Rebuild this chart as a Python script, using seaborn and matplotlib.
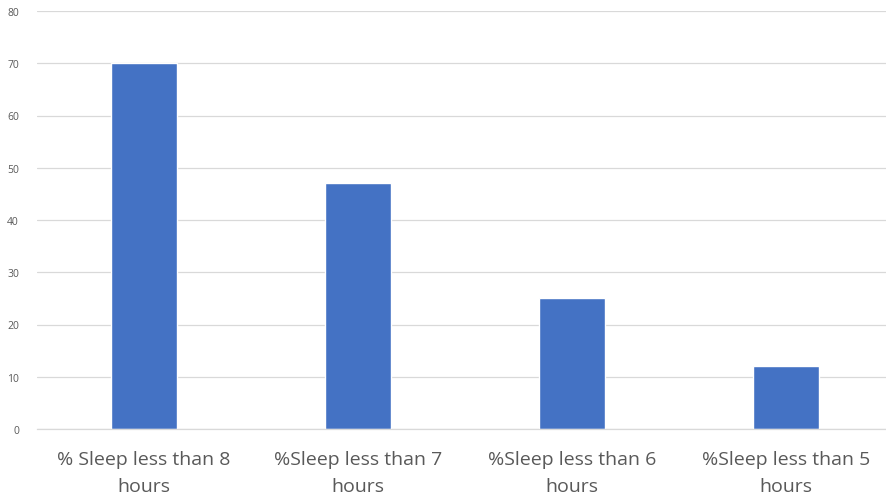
import matplotlib
matplotlib.use("Agg")
import matplotlib.pyplot as plt
import seaborn as sns
import pandas as pd

categories = ["% Sleep less than 8\nhours", "%Sleep less than 7\nhours",
              "%Sleep less than 6\nhours", "%Sleep less than 5\nhours"]
values = [70, 47, 25, 12]
yticks = [0, 10, 20, 30, 40, 50, 60, 70, 80]

sns.set_theme(style="white")
plt.rcParams['font.family'] = ['Open Sans', 'DejaVu Sans']

df = pd.DataFrame({"cat": categories, "val": values})

fig = plt.figure(figsize=(8.86, 5.02), dpi=100)
ax = fig.add_axes([37/886, 1 - 430/502, 1 - 37/886, (430 - 12)/502])
sns.barplot(data=df, x="cat", y="val", color="#4472C4", saturation=1, width=0.313, ax=ax)

ax.set_ylim(0, 80)
ax.set_yticks(yticks)
ax.set_xlim(-0.5, (886 - 37) / 214 - 0.5)
ax.grid(axis="y", color="#D9D9D9", linewidth=0.9)
ax.set_axisbelow(True)
for s in ["top", "right", "left"]:
    ax.spines[s].set_visible(False)
ax.spines["bottom"].set_color("#D9D9D9")
ax.spines["bottom"].set_linewidth(0.9)
ax.tick_params(axis="y", length=0, labelsize=7.5, labelcolor="#595959", pad=13)
ax.tick_params(axis="x", length=0, labelsize=14, labelcolor="#595959", pad=15)
for lab in ax.get_xticklabels():
    lab.set_linespacing(1.65)
ax.set_xlabel("")
ax.set_ylabel("")

fig.savefig("out.png", dpi=100)
